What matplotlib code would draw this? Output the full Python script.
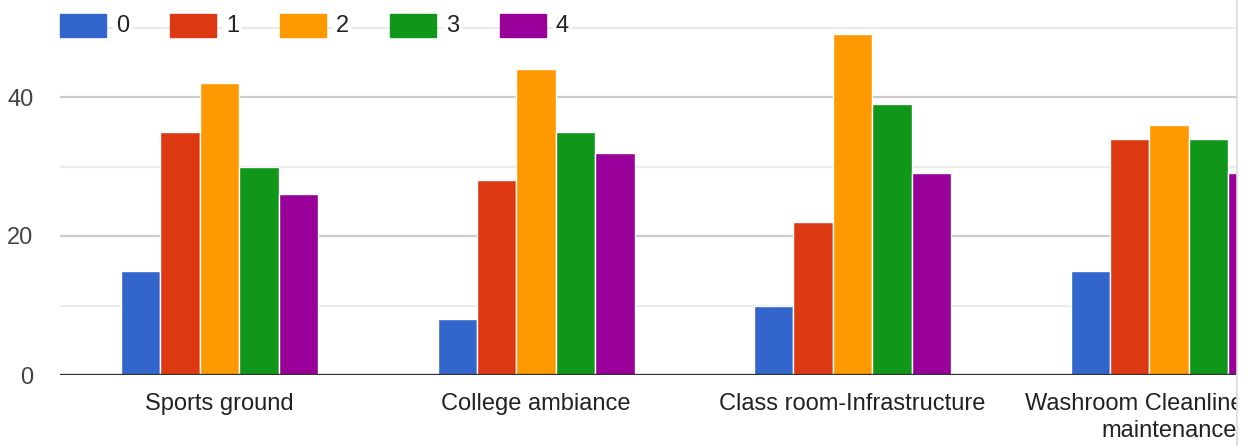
import numpy as np
import matplotlib.pyplot as plt
from matplotlib.patches import Rectangle
from matplotlib.lines import Line2D

plt.rcParams['font.family'] = ['Liberation Sans', 'DejaVu Sans']

categories = ['Sports ground', 'College ambiance', 'Class room-Infrastructure',
              'Washroom Cleanliness and\nmaintenance']
series_names = ['0', '1', '2', '3', '4']
values_0 = [15, 8, 10, 15]
values_1 = [35, 28, 22, 34]
values_2 = [42, 44, 49, 36]
values_3 = [30, 35, 39, 34]
values_4 = [26, 32, 29, 29]
colors = ['#3366cc', '#dc3912', '#ff9900', '#109618', '#990099']

W, H = 1248, 446
fig = plt.figure(figsize=(W / 100, H / 100), dpi=100)
ax = fig.add_axes([60 / W, 71 / H, (W - 60) / W, 361.4 / H])

x = np.arange(len(categories))
bw = 0.1245
all_vals = [values_0, values_1, values_2, values_3, values_4]
for i, (vals, c) in enumerate(zip(all_vals, colors)):
    ax.bar(x + (i - 2) * bw, vals, width=bw, color=c, edgecolor='white',
           linewidth=1.0, zorder=3)

# gridlines
for y in [20, 40]:
    ax.axhline(y, color='#cccccc', lw=1.6, zorder=1)
for y in [10, 30, 50]:
    ax.axhline(y, color='#ebebeb', lw=1.6, zorder=1)
ax.axhline(0, color='#333333', lw=2.4, zorder=4)

ax.set_ylim(0, 52)
ax.set_xlim(-0.504, -0.504 + (W - 60) / 316.5)
ax.set_yticks([0, 20, 40])
ax.set_xticks(x)
ax.set_xticklabels(categories, fontsize=17, color='#222222', linespacing=1.3)
ax.tick_params(axis='y', length=0, pad=19, labelsize=17, labelcolor='#444444')
ax.tick_params(axis='x', length=0, pad=13)
for s in ax.spines.values():
    s.set_visible(False)

# legend drawn in figure pixels
lx = [60, 170, 280, 390, 500]
for xi, name, c in zip(lx, series_names, colors):
    fig.add_artist(Rectangle((xi / W, 1 - 37 / H), 46 / W, 23 / H,
                             transform=fig.transFigure, color=c, zorder=10))
    fig.text((xi + 56) / W, 1 - 26 / H, name, fontsize=17, color='#222222',
             va='center', ha='left', zorder=10,
             bbox=dict(boxstyle='square,pad=0.12', fc='white', ec='none'))

# cropped right edge
fig.add_artist(Rectangle((1237 / W, 0), (W - 1237) / W, 1,
                         transform=fig.transFigure, color='white', zorder=20))
fig.add_artist(Line2D([1237 / W, 1237 / W], [0, 1], transform=fig.transFigure,
                      color='#dadada', lw=1.2, zorder=21))

fig.savefig('out.png', dpi=100)
